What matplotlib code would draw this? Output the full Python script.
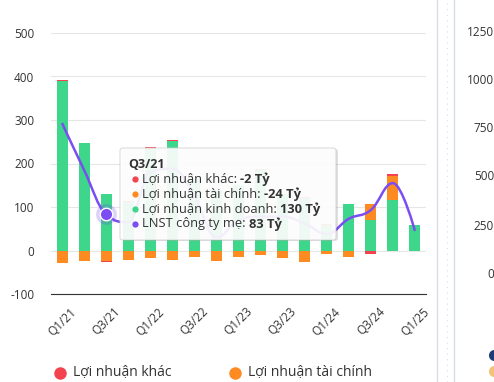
import numpy as np
import matplotlib
matplotlib.use("Agg")
import matplotlib.pyplot as plt
from matplotlib.path import Path
from matplotlib.patches import PathPatch, FancyBboxPatch
from matplotlib.lines import Line2D

plt.rcParams['font.family'] = ['Open Sans', 'DejaVu Sans']
plt.rcParams['axes.unicode_minus'] = False

quarters = ['Q1/21', 'Q2/21', 'Q3/21', 'Q4/21', 'Q1/22', 'Q2/22', 'Q3/22', 'Q4/22',
            'Q1/23', 'Q2/23', 'Q3/23', 'Q4/23', 'Q1/24', 'Q2/24', 'Q3/24', 'Q4/24', 'Q1/25']
ln_kinh_doanh = [390, 247, 130, 112, 234, 252, 165, 140, 150, 185, 130, 120, 58, 106, 69, 117, 58]
ln_tai_chinh = [-28, -25, -24, -22, -18, -22, -15, -25, -15, -11, -18, -27, -8, -15, 37, 55, 0]
ln_khac = [3, 0, -2, 2, 3, 3, 0, 0, 0, 3, 0, 3, 2, 0, -7, 3, -2]
lnst_cong_ty_me = [293, 185, 83, 65, 180, 188, 125, 30, 70, 78, 78, 62, 38, 73, 93, 155, 45]

c_red = '#f2434f'
c_orange = '#fd8b22'
c_green = '#3dd68a'
c_purple = '#7b4df2'
c_text = '#333333'

fig = plt.figure(figsize=(4.94, 3.82), dpi=100)
ax = fig.add_axes([51/494, 88/382, 375/494, 261/382])

x = np.arange(len(quarters))
pos = np.zeros(len(x))
neg = np.zeros(len(x))
for vals, col in [(ln_kinh_doanh, c_green), (ln_tai_chinh, c_orange), (ln_khac, c_red)]:
    v = np.array(vals, dtype=float)
    b = np.where(v >= 0, pos, neg)
    ax.bar(x, v, 0.5, bottom=b, color=col, zorder=2)
    pos = pos + np.where(v > 0, v, 0)
    neg = neg + np.where(v < 0, v, 0)

# spline like highcharts
y = np.array(lnst_cong_ty_me, dtype=float)
sm = 1.5
verts = [(x[0], y[0])]
codes = [Path.MOVETO]
ctrl = []
for i in range(len(x)):
    if i == 0 or i == len(x) - 1:
        ctrl.append(((x[i], y[i]), (x[i], y[i])))
        continue
    lx = (sm * x[i] + x[i-1]) / (sm + 1)
    ly = (sm * y[i] + y[i-1]) / (sm + 1)
    rx = (sm * x[i] + x[i+1]) / (sm + 1)
    ry = (sm * y[i] + y[i+1]) / (sm + 1)
    corr = ((ry - ly) * (rx - x[i])) / (rx - lx) + y[i] - ry
    ly += corr
    ry += corr
    if ly > y[i-1] and ly > y[i]:
        ly = max(y[i-1], y[i]); ry = 2 * y[i] - ly
    elif ly < y[i-1] and ly < y[i]:
        ly = min(y[i-1], y[i]); ry = 2 * y[i] - ly
    if ry > y[i+1] and ry > y[i]:
        ry = max(y[i+1], y[i]); ly = 2 * y[i] - ry
    elif ry < y[i+1] and ry < y[i]:
        ry = min(y[i+1], y[i]); ly = 2 * y[i] - ry
    ctrl.append(((lx, ly), (rx, ry)))
for i in range(1, len(x)):
    verts += [ctrl[i-1][1], ctrl[i][0], (x[i], y[i])]
    codes += [Path.CURVE4] * 3
ax.add_patch(PathPatch(Path(verts, codes), fill=False, edgecolor=c_purple, lw=1.8, zorder=3))

# hovered point
ax.plot(x[2], y[2], 'o', ms=15, color=c_purple, alpha=0.25, mec='none', zorder=4)
ax.plot(x[2], y[2], 'o', ms=9, color=c_purple, mec='white', mew=1, zorder=5)

ax.set_xlim(-0.5, 16.5)
ax.set_ylim(-100, 500)
ax.set_yticks(range(-100, 501, 100))
ax.set_xticks(x[::2])
ax.set_xticklabels(quarters[::2])
ax.tick_params(axis='x', length=0, pad=8, labelsize=8.5, colors=c_text, labelrotation=45)
plt.setp(ax.get_xticklabels(), ha='right', va='top', rotation_mode='anchor')
ax.tick_params(axis='y', length=0, pad=12, labelsize=8.5, colors=c_text)
ax.grid(axis='y', color='#e6e6e6', lw=0.8, zorder=0)
for s in ['top', 'right', 'left']:
    ax.spines[s].set_visible(False)
ax.spines['bottom'].set_color(c_text)
ax.spines['bottom'].set_position(('data', -100))

# tooltip
def fx(px):
    return px / 494
def fy(py):
    return 1 - py / 382

shadow = FancyBboxPatch((fx(122), fy(241)), fx(336) - fx(120), fy(148) - fy(240),
                        boxstyle='round,pad=0,rounding_size=0.006', transform=fig.transFigure,
                        facecolor='#000000', alpha=0.12, edgecolor='none', zorder=10)
fig.add_artist(shadow)
box = FancyBboxPatch((fx(120), fy(240)), fx(336) - fx(120), fy(148) - fy(240),
                     boxstyle='round,pad=0,rounding_size=0.006', transform=fig.transFigure,
                     facecolor='white', alpha=0.92, edgecolor='#cccccc', lw=0.6, zorder=11)
fig.add_artist(box)
fig.text(fx(128), fy(164), 'Q3/21', fontsize=9, fontweight='bold', color=c_text,
         va='center', zorder=12)
rows = [(c_red, 'Lợi nhuận khác: ', '-2 Tỷ'),
        (c_orange, 'Lợi nhuận tài chính: ', '-24 Tỷ'),
        (c_green, 'Lợi nhuận kinh doanh: ', '130 Tỷ'),
        (c_purple, 'LNST công ty mẹ: ', '83 Tỷ')]
for k, (col, lab, val) in enumerate(rows):
    yy = fy(179 + k * 15)
    fig.add_artist(Line2D([fx(135)], [yy], marker='o', ms=4.5, color=col, mec='none',
                          transform=fig.transFigure, zorder=12))
    t = fig.text(fx(142), yy, lab, fontsize=9.3, color=c_text, va='center', zorder=12)
    fig.canvas.draw()
    bb = t.get_window_extent()
    fig.text(bb.x1 / fig.bbox.width, yy, val, fontsize=9.3, fontweight='bold', color=c_text,
             va='center', zorder=12)

# legend (second row falls below the picture)
legend_items = [(c_red, 'Lợi nhuận khác', 60, 373), (c_orange, 'Lợi nhuận tài chính', 235, 373)]
for col, lab, px, py in legend_items:
    fig.add_artist(Line2D([fx(px)], [fy(py)], marker='o', ms=9, color=col, mec='none',
                          transform=fig.transFigure))
    fig.text(fx(px + 13), fy(py), lab, fontsize=10, color=c_text, va='center')

# neighbouring panel on the right
fig.add_artist(Line2D([fx(437), fx(437)], [0, 1], color='#d8dce3', lw=1, transform=fig.transFigure))
fig.add_artist(Line2D([fx(454), fx(454)], [0, 1], color='#d8dce3', lw=1, transform=fig.transFigure))
fig.add_artist(Line2D([fx(446.5), fx(446.5)], [0, 1], color='#d8dce3', lw=0.8, ls=(0, (1, 4)),
                      transform=fig.transFigure))
right_ticks = ['1250', '1000', '750', '500', '250', '0']
right_py = [33, 81, 129, 177, 227, 274]
for lab, py in zip(right_ticks, right_py):
    fig.text(fx(494), fy(py), lab, fontsize=8.5, color=c_text, ha='right', va='center')
fig.add_artist(Line2D([fx(494)], [fy(355)], marker='o', ms=8, color='#1f3b73', mec='none',
                      transform=fig.transFigure))
fig.add_artist(Line2D([fx(494)], [fy(371)], marker='o', ms=8, color='#f0c27a', mec='none',
                      transform=fig.transFigure))

fig.savefig('out.png', dpi=100)
